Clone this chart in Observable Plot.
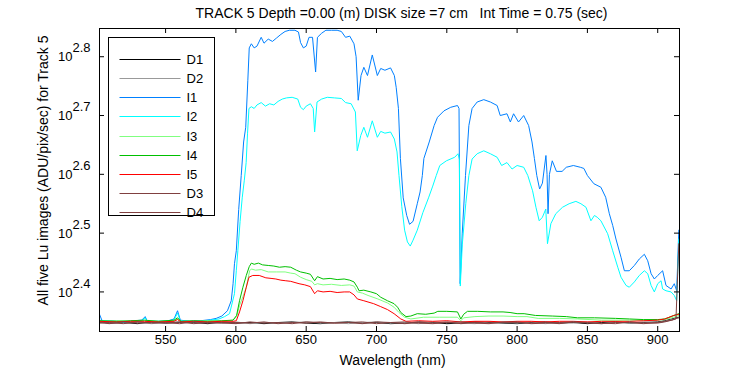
<!DOCTYPE html>
<html><head><meta charset="utf-8">
<script src="https://cdn.jsdelivr.net/npm/d3@7"></script>
<script src="https://cdn.jsdelivr.net/npm/@observablehq/plot@0.6"></script>
<style>
html,body{margin:0;padding:0;background:#fff;}
svg{display:block}
svg text{white-space:pre}
</style>
</head><body><div id="chart"></div>
<script>
// ---------- labels ----------
const titleText = "TRACK 5 Depth =0.00 (m) DISK size =7 cm   Int Time = 0.75 (sec)";
const xLabel = "Wavelength (nm)";
const yLabel = "All five Lu images (ADU/pix/sec) for Track 5";
const seriesNames = ["D1","D2","I1","I2","I3","I4","I5","D3","D4"];
const seriesColors = ["#000000","#999999","#0080ff","#00ffff","#80ff80","#00c000","#ff0000","#804040","#804040"];
const xTicks = [550,600,650,700,750,800,850,900];
const yTickExponents = [2.4,2.5,2.6,2.7,2.8];   // ticks at 10^2.4 ... 10^2.8

// ---------- data: [wavelength nm, log10(ADU/pix/sec)] ----------
const I1 = [[503,2.362],[505,2.350],[512,2.351],[520,2.349],[528,2.351],[533,2.352],[535.5,2.358],[537,2.350],[545,2.350],[552,2.351],[556,2.354],[558.5,2.368],[560.5,2.352],[567,2.350],[575,2.351],[582,2.353],[586,2.355],[590,2.359],[594,2.368],[596.7,2.385],[598,2.414],[599,2.448],[600.3,2.470],[602,2.540],[603.8,2.598],[605.5,2.655],[607,2.680],[608.5,2.760],[609.5,2.815],[611,2.822],[613,2.815],[615,2.818],[618,2.833],[620,2.823],[623,2.830],[626,2.826],[629,2.832],[632,2.838],[635,2.843],[638,2.845],[642,2.845],[644.5,2.842],[646,2.824],[648,2.815],[650,2.818],[652,2.833],[654.5,2.833],[656.7,2.774],[658,2.833],[661,2.840],[664,2.845],[668,2.845],[672,2.845],[675,2.843],[678,2.833],[681,2.835],[684,2.822],[685.5,2.800],[687,2.726],[689,2.768],[691,2.782],[693.6,2.768],[697,2.803],[700.6,2.768],[703,2.780],[706,2.777],[710,2.781],[712.7,2.768],[714,2.748],[715.6,2.712],[717,2.627],[719,2.560],[721.5,2.530],[723.5,2.515],[726,2.520],[729,2.550],[731,2.570],[732.6,2.598],[733.7,2.627],[737.5,2.655],[741,2.683],[743.4,2.697],[748,2.708],[752.8,2.714],[757.6,2.717],[758.7,2.712],[759.5,2.414],[761,2.500],[763.3,2.598],[765.7,2.683],[768,2.712],[771.6,2.723],[776.3,2.727],[781,2.723],[785.8,2.717],[788,2.700],[792.8,2.703],[795.2,2.689],[797.5,2.703],[801,2.689],[804.7,2.700],[808.2,2.683],[810.6,2.655],[812.3,2.627],[814,2.598],[816,2.575],[818,2.585],[820.5,2.632],[821.3,2.600],[822,2.533],[823,2.600],[825,2.623],[828,2.605],[832,2.605],[835,2.612],[840,2.615],[845,2.612],[847.5,2.610],[850,2.598],[854.6,2.584],[859.6,2.578],[863,2.561],[865.6,2.533],[868,2.513],[870.3,2.490],[873.9,2.459],[876.3,2.436],[879.8,2.436],[883.4,2.445],[886.9,2.456],[890.5,2.464],[892.9,2.453],[895.3,2.431],[897.6,2.422],[900,2.428],[903.5,2.436],[905.9,2.411],[909.5,2.405],[911.8,2.414],[913.5,2.402],[915,2.505]];

const I2 = [[503,2.352],[512,2.350],[520,2.349],[528,2.350],[533,2.351],[535.5,2.356],[537,2.350],[545,2.350],[552,2.350],[556,2.353],[558.5,2.364],[560.5,2.351],[567,2.350],[575,2.350],[582,2.352],[588,2.354],[592,2.358],[595.5,2.363],[599,2.397],[600.3,2.436],[601.4,2.470],[603,2.520],[604.5,2.560],[606,2.590],[607.3,2.620],[608.3,2.670],[609.3,2.712],[611,2.715],[613,2.712],[615,2.718],[618,2.722],[621,2.716],[624,2.720],[627,2.718],[630,2.724],[633,2.728],[636,2.730],[640,2.731],[644,2.728],[646,2.714],[648,2.710],[650,2.716],[653,2.720],[655,2.712],[656,2.672],[657.7,2.723],[661,2.728],[665,2.731],[670,2.730],[675,2.729],[678,2.722],[682,2.720],[685,2.706],[686.3,2.640],[688.8,2.666],[691,2.680],[693.6,2.663],[697,2.691],[700.6,2.663],[703,2.673],[706,2.670],[710,2.672],[712.7,2.660],[714.6,2.638],[716,2.598],[718,2.545],[720,2.505],[722,2.485],[724,2.478],[726,2.488],[729,2.505],[733,2.535],[737,2.560],[740,2.580],[742.5,2.598],[745,2.615],[749.7,2.623],[755.6,2.629],[758,2.635],[759,2.625],[759.6,2.410],[761,2.480],[763.5,2.550],[765.7,2.598],[768,2.626],[771.6,2.635],[776.3,2.640],[781,2.635],[785.8,2.629],[789,2.615],[792.8,2.620],[796.4,2.609],[800,2.615],[804.7,2.612],[807.6,2.598],[811,2.572],[813.4,2.544],[815.7,2.521],[818,2.527],[820.4,2.541],[821.6,2.482],[824,2.516],[827.5,2.533],[832.3,2.544],[837,2.550],[841.8,2.554],[845.4,2.550],[849,2.544],[852.5,2.521],[855,2.530],[857,2.527],[859.6,2.521],[864.4,2.499],[868,2.470],[871.6,2.442],[873.9,2.425],[877.5,2.411],[879.8,2.408],[883.4,2.417],[886.9,2.428],[890.5,2.436],[892.9,2.431],[895.3,2.411],[897.6,2.400],[900,2.414],[902.4,2.419],[903.5,2.405],[905.9,2.402],[909.5,2.400],[911.8,2.394],[913.5,2.385],[915,2.490]];

const I3 = [[503,2.350],[515,2.351],[525,2.350],[535,2.351],[545,2.350],[556,2.351],[558.5,2.354],[561,2.350],[570,2.350],[580,2.351],[590,2.350],[598,2.352],[600.5,2.358],[602.6,2.377],[605,2.392],[607.4,2.408],[609.8,2.436],[611,2.439],[614,2.437],[618,2.438],[623,2.434],[629,2.434],[635,2.434],[639,2.432],[642,2.431],[646,2.425],[650,2.421],[654,2.418],[656,2.412],[658,2.414],[662,2.412],[668,2.413],[675,2.411],[681,2.412],[684,2.410],[686.4,2.400],[690,2.398],[694,2.394],[701,2.388],[708,2.381],[712.5,2.374],[716,2.365],[720,2.357],[724.4,2.354],[733.5,2.357],[745,2.357],[757.6,2.357],[760,2.351],[762,2.356],[770,2.358],[780,2.359],[790,2.359],[800,2.358],[807,2.358],[815,2.355],[830,2.355],[843,2.354],[860,2.352],[880,2.352],[900,2.352],[905,2.353],[911.5,2.357],[915,2.360]];

const I4 = [[503,2.351],[515,2.350],[525,2.351],[535,2.352],[545,2.350],[556,2.352],[558.5,2.356],[561,2.350],[570,2.351],[580,2.350],[590,2.351],[598,2.352],[600.5,2.360],[602.6,2.385],[605,2.408],[607.4,2.428],[609.5,2.443],[611,2.449],[613,2.447],[616,2.449],[619,2.446],[623,2.445],[627,2.444],[631,2.442],[635,2.443],[639,2.442],[643,2.437],[646,2.434],[650,2.432],[653,2.430],[656,2.419],[658,2.426],[662,2.422],[667,2.423],[672,2.421],[677,2.422],[681,2.420],[684,2.417],[686.4,2.408],[687.6,2.402],[691,2.403],[696,2.400],[700,2.397],[703,2.391],[707.8,2.385],[712.5,2.380],[715,2.374],[717.3,2.365],[721,2.358],[724.4,2.359],[729,2.363],[735,2.362],[741,2.364],[743.6,2.367],[750,2.367],[757.6,2.366],[760,2.354],[762,2.362],[764.7,2.367],[772,2.367],[781,2.366],[790,2.366],[795,2.365],[800,2.363],[805,2.363],[813,2.360],[825,2.359],[835,2.358],[843,2.356],[855,2.356],[870,2.355],[880,2.354],[890,2.353],[900,2.353],[905,2.354],[911.5,2.360],[915,2.363]];

const I5 = [[503,2.350],[515,2.349],[525,2.350],[535,2.350],[545,2.349],[556,2.350],[558.5,2.353],[561,2.349],[570,2.350],[580,2.349],[590,2.350],[598,2.350],[600.3,2.351],[602.6,2.366],[605,2.385],[607.4,2.408],[609.3,2.425],[612,2.428],[616.6,2.428],[621.3,2.424],[625,2.423],[628.4,2.422],[632,2.420],[635.5,2.419],[639,2.418],[644.9,2.414],[649,2.412],[653,2.409],[656,2.397],[658,2.402],[662,2.400],[667,2.401],[672,2.399],[677,2.400],[681,2.400],[684,2.395],[686.4,2.388],[691,2.385],[698,2.380],[703,2.375],[707.8,2.370],[712.5,2.363],[717.3,2.354],[721,2.350],[730,2.351],[740,2.350],[750,2.351],[760,2.349],[770,2.350],[780,2.350],[790,2.349],[800,2.350],[810,2.350],[820,2.349],[830,2.350],[840,2.350],[850,2.349],[860,2.350],[870,2.350],[880,2.350],[890,2.351],[900,2.352],[905,2.354],[911.5,2.360],[915,2.362]];

// dark frames share one wavelength grid
const D_nm = [503,510,520,530,540,550,560,570,580,590,600,610,620,630,640,650,660,670,680,690,700,710,720,730,740,750,760,770,780,790,800,810,820,830,840,850,860,870,880,890,900,905,910,913,915];
const D1 = [2.349,2.347,2.348,2.346,2.349,2.347,2.348,2.348,2.346,2.349,2.347,2.348,2.346,2.348,2.349,2.347,2.346,2.348,2.349,2.347,2.348,2.346,2.347,2.349,2.348,2.346,2.347,2.349,2.348,2.347,2.346,2.348,2.349,2.347,2.348,2.346,2.348,2.349,2.347,2.348,2.349,2.351,2.354,2.356,2.357];
const D2 = [2.348,2.349,2.347,2.348,2.346,2.348,2.349,2.347,2.348,2.347,2.349,2.346,2.348,2.347,2.348,2.349,2.347,2.348,2.346,2.348,2.349,2.347,2.348,2.346,2.349,2.348,2.347,2.346,2.349,2.348,2.347,2.349,2.346,2.348,2.347,2.349,2.346,2.348,2.347,2.349,2.348,2.350,2.353,2.355,2.356];
const D3 = [2.347,2.348,2.346,2.349,2.347,2.348,2.346,2.349,2.347,2.348,2.348,2.347,2.349,2.346,2.348,2.347,2.349,2.347,2.348,2.346,2.349,2.348,2.346,2.348,2.347,2.349,2.346,2.348,2.347,2.348,2.349,2.346,2.347,2.348,2.349,2.347,2.346,2.348,2.348,2.346,2.348,2.350,2.352,2.355,2.356];
const D4 = [2.348,2.346,2.349,2.347,2.348,2.347,2.349,2.346,2.348,2.347,2.346,2.349,2.347,2.348,2.346,2.349,2.348,2.347,2.348,2.349,2.346,2.348,2.349,2.347,2.346,2.348,2.349,2.347,2.346,2.349,2.348,2.347,2.348,2.346,2.349,2.348,2.347,2.346,2.349,2.347,2.347,2.349,2.352,2.354,2.482];

// ---------- build table (in legend / drawing order) ----------
const pairSeries = {I1, I2, I3, I4, I5};
const darkSeries = {D1, D2, D3, D4};
const table = [];
for (const name of seriesNames) {
  if (pairSeries[name]) {
    for (const [nm, lg] of pairSeries[name]) table.push({series: name, nm, value: Math.pow(10, lg)});
  } else {
    darkSeries[name].forEach((lg, i) => table.push({series: name, nm: D_nm[i], value: Math.pow(10, lg)}));
  }
}

// ---------- layout ----------
const W = 750, H = 375;
const mL = 99, mR = 71, mT = 28, mB = 44;
const plotW = W - mL - mR, plotH = H - mT - mB;
const tickLen = 5;
const FONT = "'Liberation Sans', Arial, Helvetica, sans-serif";

const svg = Plot.plot({
  width: W, height: H,
  marginLeft: mL, marginRight: mR, marginTop: mT, marginBottom: mB,
  style: {fontFamily: FONT, fontSize: "13px", background: "#fff", color: "#000"},
  x: {domain: [503, 915.5], axis: null},
  y: {type: "log", domain: [Math.pow(10, 2.3327), Math.pow(10, 2.848)], axis: null},
  color: {domain: seriesNames, range: seriesColors},
  marks: [
    Plot.line(table, {x: "nm", y: "value", z: "series", stroke: "series", strokeWidth: 1, clip: true}),
    Plot.frame({stroke: "#000", strokeWidth: 1}),
    // inward ticks on all four sides
    Plot.tickX(xTicks, {x: d => d, insetTop: plotH - tickLen, stroke: "#000"}),
    Plot.tickX(xTicks, {x: d => d, insetBottom: plotH - tickLen, stroke: "#000"}),
    Plot.tickY(yTickExponents, {y: d => Math.pow(10, d), insetRight: plotW - tickLen, stroke: "#000"}),
    Plot.tickY(yTickExponents, {y: d => Math.pow(10, d), insetLeft: plotW - tickLen, stroke: "#000"}),
    // x tick labels
    Plot.text(xTicks, {x: d => d, frameAnchor: "bottom", dy: 12, text: d => String(d), fontSize: 13, fill: "#000"}),
    // y tick labels: 10 with exponent
    Plot.text(yTickExponents, {y: d => Math.pow(10, d), frameAnchor: "left", dx: -27, dy: 0.5, textAnchor: "end", text: () => "10", fontSize: 13, fill: "#000"}),
    Plot.text(yTickExponents, {y: d => Math.pow(10, d), frameAnchor: "left", dx: -27, dy: -8.5, textAnchor: "start", text: d => d.toFixed(1), fontSize: 13, fill: "#000"}),
    // axis labels and title
    Plot.text([xLabel], {frameAnchor: "bottom", dx: 3, dy: 33, text: d => d, fontSize: 14, fill: "#000"}),
    Plot.text([yLabel], {frameAnchor: "left", dx: -56, dy: -9.5, rotate: -90, textAnchor: "middle", text: d => d, fontSize: 14, fill: "#000"}),
    Plot.text([titleText], {frameAnchor: "top", dx: 12, dy: -20, text: d => d, fontSize: 14, fill: "#000"})
  ]
});

// ---------- legend (box inside the axes, upper left) ----------
const lg = d3.select(svg).append("g").attr("transform", "translate(0.5,0.5)")
  .attr("text-anchor", "start");
const boxX = mL + 9, boxY = mT + 9, boxW = 106, boxH = 178, rowH = 19.15, firstRow = 22;
lg.append("rect").attr("x", boxX).attr("y", boxY).attr("width", boxW).attr("height", boxH)
  .attr("fill", "#fff").attr("stroke", "#000").attr("stroke-width", 1);
seriesNames.forEach((name, i) => {
  const yy = Math.round(boxY + firstRow + i * rowH);
  lg.append("line").attr("x1", boxX + 11).attr("x2", boxX + 72).attr("y1", yy).attr("y2", yy)
    .style("stroke", seriesColors[i]).attr("stroke-width", 1);
  lg.append("text").attr("x", boxX + 78).attr("y", yy).attr("dy", "0.35em")
    .attr("text-anchor", "start")
    .attr("font-family", FONT).attr("font-size", 13).style("fill", "#000").text(name);
});

document.getElementById("chart").appendChild(svg);
</script>
</body></html>
